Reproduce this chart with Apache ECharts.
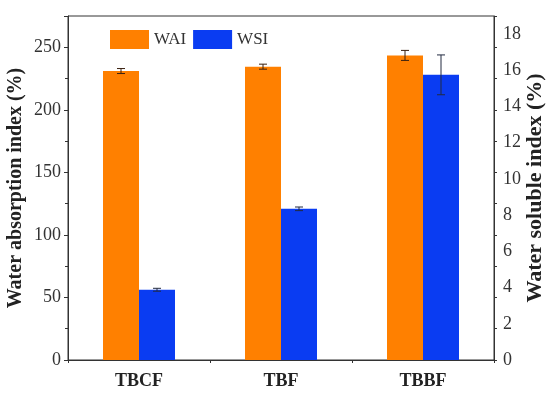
<!DOCTYPE html>
<html>
<head>
<meta charset="utf-8">
<script src="https://cdn.jsdelivr.net/npm/echarts@6/dist/echarts.min.js"></script>
<style>html,body{margin:0;padding:0;background:#fff;}#c{width:550px;height:395px;}</style>
</head>
<body>
<div id="c"></div>
<script>
const categories = ['TBCF', 'TBF', 'TBBF'];
const waiValues = [231, 234.5, 243.5];
const waiErrors = [2, 2, 4];
const wsiValues = [3.88, 8.35, 15.75];
const wsiErrors = [0.08, 0.1, 1.1];
const leftTicks = [0, 50, 100, 150, 200, 250];
const rightTicks = [0, 2, 4, 6, 8, 10, 12, 14, 16, 18];

const ORANGE = '#ff8000';
const BLUE = '#0a3cf2';
const FONT = '"Liberation Serif", "Times New Roman", serif';
const BAR_W = 36;

const chart = echarts.init(document.getElementById('c'), null, {renderer: 'canvas'});

function errorRender(values, errors, offset, color) {
  return function (params, api) {
    const i = api.value(0);
    const v = values[i], e = errors[i];
    const top = api.coord([i, v + e]);
    const bot = api.coord([i, v - e]);
    const x = top[0] + offset;
    const cap = 4;
    const style = {stroke: color, lineWidth: 1};
    return {
      type: 'group',
      children: [
        {type: 'line', shape: {x1: x, y1: top[1], x2: x, y2: bot[1]}, style: style},
        {type: 'line', shape: {x1: x - cap, y1: top[1], x2: x + cap, y2: top[1]}, style: style},
        {type: 'line', shape: {x1: x - cap, y1: bot[1], x2: x + cap, y2: bot[1]}, style: style}
      ]
    };
  };
}

const option = {
  animation: false,
  backgroundColor: '#fff',
  grid: {left: 68, right: 56, top: 16, bottom: 35, show: true, borderColor: '#333', borderWidth: 1,
    containLabel: false, outerBoundsMode: 'none'},
  legend: {
    left: 105, top: 25, itemWidth: 39, itemHeight: 19, itemGap: 7, icon: 'rect',
    textStyle: {fontFamily: FONT, fontSize: 17, color: '#333'},
    data: ['WAI', 'WSI']
  },
  xAxis: [{
    type: 'category', data: categories,
    axisLine: {lineStyle: {color: '#333'}},
    axisTick: {alignWithLabel: true, length: 5, lineStyle: {color: '#333'}},
    axisLabel: {fontFamily: FONT, fontSize: 18, fontWeight: 'bold', color: '#222', margin: 12}
  }, {
    type: 'category', data: categories, position: 'bottom',
    axisLine: {show: false},
    axisTick: {show: true, length: 3, lineStyle: {color: '#333'}},
    axisLabel: {show: false}
  }],
  yAxis: [{
    type: 'value', min: 0, max: 275, interval: 50,
    name: 'Water absorption index (%)', nameLocation: 'middle', nameGap: 42, nameRotate: 90,
    nameMoveOverlap: false,
    nameTextStyle: {fontFamily: FONT, fontSize: 20, fontWeight: 'bold', color: '#222'},
    axisLine: {show: true, lineStyle: {color: '#333'}},
    axisTick: {show: true, length: 4, lineStyle: {color: '#333'}},
    minorTick: {show: true, splitNumber: 2, length: 3, lineStyle: {color: '#333'}},
    splitLine: {show: false},
    axisLabel: {fontFamily: FONT, fontSize: 18, color: '#333', margin: 7,
      formatter: function (v) { return leftTicks.indexOf(v) >= 0 ? String(v) : ''; }}
  }, {
    type: 'value', min: 0, max: 19, interval: 2, position: 'right',
    name: 'Water soluble index (%)', nameLocation: 'middle', nameGap: 30, nameRotate: 90,
    nameMoveOverlap: false,
    nameTextStyle: {fontFamily: FONT, fontSize: 22, fontWeight: 'bold', color: '#222'},
    axisLine: {show: true, lineStyle: {color: '#333'}},
    axisTick: {show: false},
    splitLine: {show: false},
    axisLabel: {fontFamily: FONT, fontSize: 18, color: '#333', margin: 9,
      formatter: function (v) { return rightTicks.indexOf(v) >= 0 ? String(v) : ''; }}
  }, {
    type: 'value', min: 0, max: 275, interval: 25, position: 'right',
    axisLine: {show: false},
    axisTick: {show: true, length: 3, lineStyle: {color: '#333'}},
    splitLine: {show: false},
    axisLabel: {show: false}
  }],
  series: [{
    name: 'WAI', type: 'bar', yAxisIndex: 0, data: waiValues,
    barWidth: BAR_W, barGap: '0%', itemStyle: {color: ORANGE}
  }, {
    name: 'WSI', type: 'bar', yAxisIndex: 1, data: wsiValues,
    barWidth: BAR_W, barGap: '0%', itemStyle: {color: BLUE}
  }, {
    type: 'custom', yAxisIndex: 0, z: 5,
    data: categories.map(function (c, i) { return [i, waiValues[i]]; }),
    renderItem: errorRender(waiValues, waiErrors, -BAR_W / 2, '#3a2010')
  }, {
    type: 'custom', yAxisIndex: 1, z: 5,
    data: categories.map(function (c, i) { return [i, wsiValues[i]]; }),
    renderItem: errorRender(wsiValues, wsiErrors, BAR_W / 2, '#222a40')
  }]
};
chart.setOption(option);
</script>
</body>
</html>
